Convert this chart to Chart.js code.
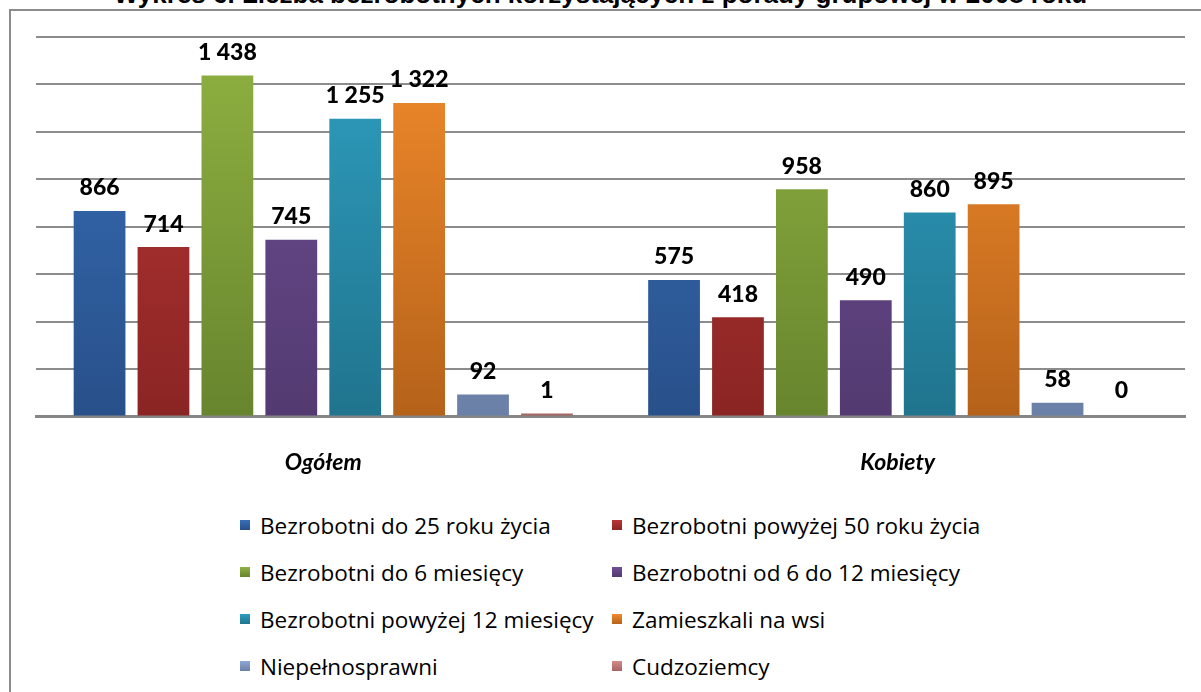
<!DOCTYPE html>
<html lang="pl">
<head>
<meta charset="utf-8">
<script src="https://cdn.jsdelivr.net/npm/chart.js@4"></script>
<style>
  html, body { margin: 0; padding: 0; background: #fff; }
  body { width: 1201px; height: 692px; position: relative; overflow: hidden; }
  #frame { position: absolute; left: 9px; top: 9px; width: 1400px; height: 900px; border: 2px solid #8c8c8c; box-sizing: border-box; }
  #title { position: absolute; left: 0; width: 1201px; top: -21px; line-height: 30px; text-align: center; font: bold 26px "Liberation Sans", Arial, sans-serif; color: #000; white-space: nowrap; }
  #wrap { position: absolute; left: 0; top: 0; width: 1201px; height: 508px; }
  #legend { position: absolute; left: 240px; top: 514px; display: grid; grid-template-columns: 372px 380px; row-gap: 25px; font: 22.5px "Open Sans", sans-serif; color: #000; }
  .item { display: flex; align-items: center; height: 22px; white-space: nowrap; }
  .box { width: 10px; height: 10px; margin-right: 10px; }
</style>
</head>
<body>
<div id="frame"></div>
<div id="title">Wykres 6. Liczba bezrobotnych korzystających z porady grupowej w 2008 roku</div>
<div id="wrap"><canvas id="chart"></canvas></div>
<div id="legend"></div>
<script>
const categories = ["Ogółem", "Kobiety"];

const seriesNames = [
  "Bezrobotni do 25 roku życia",
  "Bezrobotni powyżej 50 roku życia",
  "Bezrobotni do 6 miesięcy",
  "Bezrobotni od 6 do 12 miesięcy",
  "Bezrobotni powyżej 12 miesięcy",
  "Zamieszkali na wsi",
  "Niepełnosprawni",
  "Cudzoziemcy",
];

const ogolem = [866, 714, 1438, 745, 1255, 1322, 92, 1];
const kobiety = [575, 418, 958, 490, 860, 895, 58, 0];

// top / bottom colour of each bar gradient
const colorsTop = ["#3870b8", "#b93634", "#8fb241", "#6f4f97", "#2f9fc1", "#f28b2c", "#8ea9d8", "#d38a87"];
const colorsBottom = ["#28508a", "#8a2524", "#67852e", "#533a70", "#20748d", "#b5621a", "#6a80a6", "#a56562"];

const yMax = 1600;
const yStep = 200;

function fmt(v) {
  return String(v).replace(/\B(?=(\d{3})+(?!\d))/g, " ");
}

function gradientFor(i) {
  return (ctx) => {
    if (ctx.raw === 0) return "rgba(0,0,0,0)"; // excel draws nothing for 0
    const chart = ctx.chart;
    const area = chart.chartArea;
    if (!area) return colorsTop[i];
    const el = ctx.element;
    const top = el && Number.isFinite(el.y) ? el.y : area.top;
    const bottom = area.bottom;
    if (bottom - top < 1) return colorsTop[i];
    const g = chart.ctx.createLinearGradient(0, top, 0, bottom);
    g.addColorStop(0, colorsTop[i]);
    g.addColorStop(1, colorsBottom[i]);
    return g;
  };
}

const datasets = seriesNames.map((name, i) => ({
  label: name,
  data: [ogolem[i], kobiety[i]],
  backgroundColor: gradientFor(i),
  borderWidth: 0,
  minBarLength: 3,
}));

const valueLabels = {
  id: "valueLabels",
  afterDatasetsDraw(chart) {
    const { ctx } = chart;
    ctx.save();
    ctx.font = "900 23px Lato, sans-serif";
    ctx.fillStyle = "#000";
    ctx.textAlign = "center";
    ctx.textBaseline = "middle";
    chart.data.datasets.forEach((ds, i) => {
      chart.getDatasetMeta(i).data.forEach((bar, j) => {
        const y = ds.data[j] === 0 ? chart.chartArea.bottom - 3 : bar.y;
        ctx.fillText(fmt(ds.data[j]), bar.x, y - 23);
      });
    });
    ctx.restore();
  },
};

new Chart(document.getElementById("chart"), {
  type: "bar",
  data: { labels: categories, datasets },
  options: {
    responsive: true,
    maintainAspectRatio: false,
    animation: false,
    layout: { padding: { left: 36, right: 16, top: 37, bottom: 0 } },
    plugins: { legend: { display: false }, tooltip: { enabled: false } },
    datasets: { bar: { categoryPercentage: 0.89, barPercentage: 0.81 } },
    scales: {
      x: {
        grid: { display: false, drawTicks: false },
        border: { display: true, color: "#868686", width: 3 },
        ticks: {
          color: "#000",
          padding: 32,
          font: { family: "Lato, sans-serif", size: 23, style: "italic", weight: "bold" },
        },
      },
      y: {
        min: 0,
        max: yMax,
        ticks: { display: false, stepSize: yStep },
        grid: { color: "#8c8c8c", lineWidth: 2, drawTicks: false },
        border: { display: false },
      },
    },
  },
  plugins: [valueLabels],
});

const legend = document.getElementById("legend");
seriesNames.forEach((name, i) => {
  const item = document.createElement("div");
  item.className = "item";
  const box = document.createElement("span");
  box.className = "box";
  box.style.background = `linear-gradient(${colorsTop[i]}, ${colorsBottom[i]})`;
  const txt = document.createElement("span");
  txt.textContent = name;
  item.appendChild(box);
  item.appendChild(txt);
  legend.appendChild(item);
});
</script>
</body>
</html>
